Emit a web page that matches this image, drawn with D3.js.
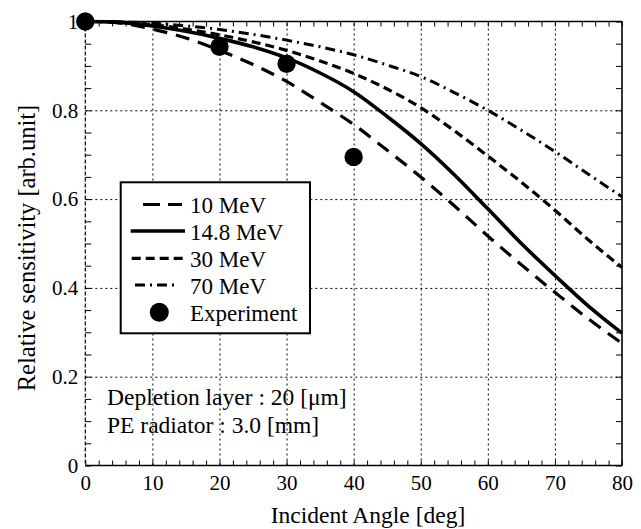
<!DOCTYPE html>
<html>
<head>
<meta charset="utf-8">
<script src="https://cdn.jsdelivr.net/npm/d3@7"></script>
</head>
<body style="margin:0">
<script>
// data
var angles = [0, 5, 10, 15, 20, 25, 30, 35, 40, 45, 50, 55, 60, 65, 70, 75, 80];
var mev10  = [1, 0.997, 0.983, 0.963, 0.935, 0.903, 0.865, 0.818, 0.768, 0.71, 0.65, 0.585, 0.517, 0.452, 0.39, 0.33, 0.275];
var mev148 = [1, 0.998, 0.99, 0.978, 0.962, 0.943, 0.918, 0.884, 0.842, 0.786, 0.725, 0.655, 0.578, 0.5, 0.428, 0.359, 0.298];
var mev30  = [1, 0.999, 0.993, 0.983, 0.97, 0.954, 0.935, 0.911, 0.883, 0.848, 0.806, 0.754, 0.697, 0.638, 0.575, 0.508, 0.446];
var mev70  = [1, 0.999, 0.996, 0.99, 0.982, 0.971, 0.958, 0.943, 0.925, 0.902, 0.876, 0.84, 0.8, 0.755, 0.707, 0.656, 0.605];
var expAngles = [0, 20, 30, 40];
var expValues = [1.0, 0.943, 0.905, 0.695];

var seriesNames = ['10 MeV', '14.8 MeV', '30 MeV', '70 MeV', 'Experiment'];
var xTicks = [0, 10, 20, 30, 40, 50, 60, 70, 80];
var yTicks = [0, 0.2, 0.4, 0.6, 0.8, 1];
var yTickLabels = ['0', '0.2', '0.4', '0.6', '0.8', '1'];

var FONT = 'Liberation Serif, serif';
var W = 641, H = 529;
var margin = { left: 85.3, top: 21.5, right: 19, bottom: 63.5 };
var width = W - margin.left - margin.right;
var height = H - margin.top - margin.bottom;

var x = d3.scaleLinear().domain([0, 80]).range([0, width]);
var y = d3.scaleLinear().domain([0, 1]).range([height, 0]);

var svg = d3.select('body').append('svg').attr('width', W).attr('height', H)
    .style('font-family', FONT);
var g = svg.append('g').attr('transform', 'translate(' + margin.left + ',' + margin.top + ')');

// dotted grid
g.append('g')
    .attr('transform', 'translate(0,' + height + ')')
    .attr('class', 'grid')
    .call(d3.axisBottom(x).tickValues(xTicks.slice(1, -1)).tickSize(-height).tickFormat(''))
    .call(function(s) { s.select('.domain').remove(); });
g.append('g')
    .attr('class', 'grid')
    .call(d3.axisLeft(y).tickValues(yTicks.slice(1, -1)).tickSize(-width).tickFormat(''))
    .call(function(s) { s.select('.domain').remove(); });
g.selectAll('.grid line').attr('stroke', '#000').attr('stroke-width', 1).attr('stroke-dasharray', '2,3');

// inward minor ticks all around
var xMinor = d3.range(0, 81, 2);
var yMinor = d3.range(0, 1.001, 0.05);
function noDomain(s) { s.select('.domain').remove(); }
g.append('g').attr('class', 'tk').attr('transform', 'translate(0,' + height + ')')
    .call(d3.axisBottom(x).tickValues(xMinor).tickSize(-5).tickFormat('')).call(noDomain);
g.append('g').attr('class', 'tk')
    .call(d3.axisTop(x).tickValues(xMinor).tickSize(-5).tickFormat('')).call(noDomain);
g.append('g').attr('class', 'tk')
    .call(d3.axisLeft(y).tickValues(yMinor).tickSize(-6).tickFormat('')).call(noDomain);
g.append('g').attr('class', 'tk').attr('transform', 'translate(' + width + ',0)')
    .call(d3.axisRight(y).tickValues(yMinor).tickSize(-6).tickFormat('')).call(noDomain);
g.selectAll('.tk line').attr('stroke', '#000').attr('stroke-width', 1);

// frame
g.append('line').attr('x1', 0).attr('x2', width).attr('y1', height).attr('y2', height)
    .attr('stroke', '#000').attr('stroke-width', 1.6);
g.append('line').attr('x1', 0).attr('x2', width).attr('y1', 0).attr('y2', 0)
    .attr('stroke', '#000').attr('stroke-width', 1.4);
g.append('line').attr('x1', width).attr('x2', width).attr('y1', 0).attr('y2', height)
    .attr('stroke', '#000').attr('stroke-width', 1.6);
g.append('line').attr('x1', 0).attr('x2', 0).attr('y1', 0).attr('y2', height)
    .attr('stroke', '#000').attr('stroke-width', 1.2).attr('stroke-dasharray', '4,2');

// tick labels
g.append('g').attr('transform', 'translate(0,' + height + ')')
    .call(d3.axisBottom(x).tickValues(xTicks).tickSize(0).tickPadding(10).tickFormat(d3.format('d')))
    .call(noDomain)
    .attr('font-family', null).attr('font-size', null)
    .selectAll('text').style('font-family', FONT).attr('font-size', 21).attr('fill', '#000');
g.append('g')
    .call(d3.axisLeft(y).tickValues(yTicks).tickSize(0).tickPadding(7)
        .tickFormat(function(d, i) { return yTickLabels[i]; }))
    .call(noDomain)
    .attr('font-family', null).attr('font-size', null)
    .selectAll('text').style('font-family', FONT).attr('font-size', 21).attr('fill', '#000');

// curves
var line = d3.line()
    .x(function(d) { return x(d[0]); })
    .y(function(d) { return y(d[1]); })
    .curve(d3.curveCatmullRom);

var series = [
    { vals: mev10,  w: 3.2, dash: '14,9' },
    { vals: mev148, w: 3.6, dash: null },
    { vals: mev30,  w: 3.2, dash: '9,5' },
    { vals: mev70,  w: 3.0, dash: '10,5,2,5' }
];
series.forEach(function(s) {
    var pts = angles.map(function(a, i) { return [a, s.vals[i]]; });
    g.append('path')
        .attr('d', line(pts))
        .attr('fill', 'none')
        .attr('stroke', '#000')
        .attr('stroke-width', s.w)
        .attr('stroke-dasharray', s.dash);
});

// experiment points
g.selectAll('circle.exp')
    .data(expAngles)
    .enter().append('circle')
    .attr('class', 'exp')
    .attr('cx', function(d) { return x(d); })
    .attr('cy', function(d, i) { return y(expValues[i]); })
    .attr('r', 9.2)
    .attr('fill', '#000');

// legend
var leg = svg.append('g');
leg.append('rect').attr('x', 120.7).attr('y', 182.3).attr('width', 189.3).attr('height', 151)
    .attr('fill', '#fff').attr('stroke', '#000').attr('stroke-width', 2);
var legRowY = [204.5, 231, 258.3, 285, 312.3];
var legX = [[143, 182], [130.7, 185], [131.7, 186], [135, 178]];
series.forEach(function(s, i) {
    leg.append('line')
        .attr('x1', legX[i][0]).attr('x2', legX[i][1])
        .attr('y1', legRowY[i]).attr('y2', legRowY[i])
        .attr('stroke', '#000').attr('stroke-width', s.w)
        .attr('stroke-dasharray', i === 0 ? '17,8' : s.dash);
});
leg.append('circle').attr('cx', 159.3).attr('cy', legRowY[4]).attr('r', 9.5).attr('fill', '#000');
leg.selectAll('text.lg')
    .data(seriesNames)
    .enter().append('text')
    .attr('class', 'lg')
    .attr('x', 190)
    .attr('y', function(d, i) { return legRowY[i] + 8.5; })
    .attr('font-size', 23)
    .style('font-family', FONT)
    .text(function(d) { return d; });

// annotation
svg.append('text').attr('x', 107).attr('y', 405).attr('font-size', 23.5).style('font-family', FONT)
    .text('Depletion layer : 20 [\u03bcm]');
svg.append('text').attr('x', 107).attr('y', 433.3).attr('font-size', 23.5).style('font-family', FONT)
    .text('PE radiator : 3.0 [mm]');

// axis titles
svg.append('text').attr('x', 368).attr('y', 523).attr('text-anchor', 'middle')
    .attr('font-size', 23.5).style('font-family', FONT).text('Incident Angle [deg]');
svg.append('text').attr('transform', 'translate(35,248) rotate(-90)').attr('text-anchor', 'middle')
    .attr('font-size', 24.5).style('font-family', FONT).text('Relative sensitivity [arb.unit]');
</script>
</body>
</html>
